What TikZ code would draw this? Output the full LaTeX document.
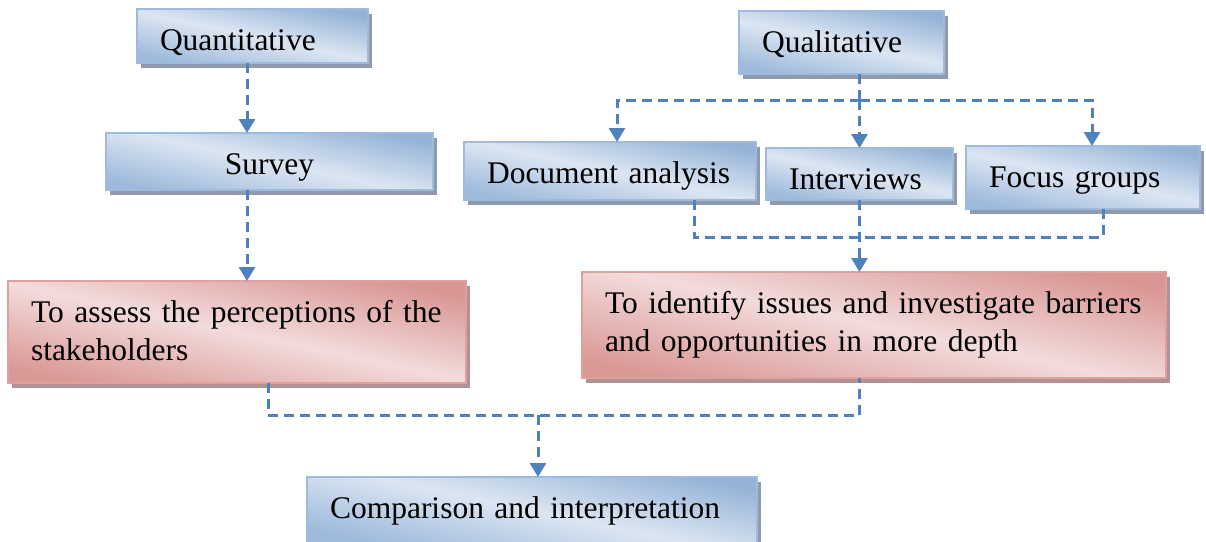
\documentclass[tikz,border=0pt]{standalone}
\usepackage{fontspec}
\setmainfont{Liberation Serif}
\usetikzlibrary{arrows.meta,shadows}

\definecolor{bluedark}{HTML}{95B3D7}
\definecolor{bluedarkb}{HTML}{9DB9DB}
\definecolor{bluelight}{HTML}{DCE6F2}
\definecolor{blueedge}{HTML}{9EBBDF}
\definecolor{blueshadow}{HTML}{8F9BAC}
\definecolor{reddark}{HTML}{D99694}
\definecolor{reddarkb}{HTML}{DA9997}
\definecolor{redlight}{HTML}{F2DCDB}
\definecolor{rededge}{HTML}{DFA09E}
\definecolor{redshadow}{HTML}{B09292}
\definecolor{linkblue}{HTML}{4F81BD}

\tikzset{
  box/.style={rectangle, inner xsep=23pt, inner ysep=0pt, outer sep=0pt,
    line width=1.6pt, align=left, text height=41pt,
    font=\fontsize{31.5}{38.5}\selectfont},
  bluebox/.style={box, draw=blueedge,
    drop shadow={shadow xshift=4pt, shadow yshift=-5pt, fill=blueshadow, opacity=1},
    top color=bluedark, bottom color=bluedarkb, middle color=bluelight,
    shading angle=-12},
  redbox/.style={box, draw=rededge,
    drop shadow={shadow xshift=4pt, shadow yshift=-5pt, fill=redshadow, opacity=1},
    top color=reddark, bottom color=reddarkb, middle color=redlight,
    shading angle=-12},
  link/.style={draw=linkblue, line width=3pt, dash pattern=on 10pt off 6pt},
  conn/.style={link, -{Triangle[width=16pt,length=14pt]}}
}

\begin{document}
\begin{tikzpicture}[x=1pt,y=-1pt]
\useasboundingbox (0,0) rectangle (1206,541);

% method boxes
\node[bluebox, text width=185pt, text depth=13pt] (quant) at (252.5,36) {Quantitative};
\node[bluebox, text width=159pt, text depth=22pt] (qual) at (841.5,42.5) {Qualitative};
\node[bluebox, text width=281pt, text depth=16pt, align=center] (survey) at (269.5,161.5) {Survey};
\node[bluebox, text width=246pt, text depth=17pt] (doc) at (610,171) {\mbox{Document analysis}};
\node[bluebox, text width=141pt, text depth=11pt] (intv) at (859.5,174) {Interviews};
\node[bluebox, text width=188pt, text depth=22pt] (focus) at (1083,177.5) {\mbox{Focus groups}};

% purpose boxes
\node[redbox, text width=412pt, text depth=61pt] (redL) at (237,332)
  {\mbox{To assess the perceptions of the}\\\mbox{stakeholders}};
\node[redbox, text width=538pt, text depth=65pt] (redR) at (874,325)
  {\mbox{To identify issues and investigate barriers}\\\mbox{and opportunities in more depth}};

% final box
\node[bluebox, text width=404pt, text depth=25pt] (comp) at (532,510) {\mbox{Comparison and interpretation}};

% routing points of the dashed connectors
\coordinate (xq) at (247,0);
\coordinate (ql) at (859.5,100);
\coordinate (xdoc) at (617,0);
\coordinate (xfoc) at (1092,0);
\coordinate (j2) at (859.5,237);
\coordinate (xdocb) at (694,0);
\coordinate (xfocb) at (1103,0);
\coordinate (j3) at (538,415);
\coordinate (xrl) at (268,0);

% quantitative branch
\draw[conn] (quant.south -| xq) -- (survey.north -| xq);
\draw[conn] (survey.south -| xq) -- (redL.north -| xq);

% qualitative branch
\draw[link] (qual.south -| ql) -- (ql);
\draw[conn] (ql) -| (doc.north -| xdoc);
\draw[conn] (ql) -- (intv.north);
\draw[conn] (ql) -| (focus.north -| xfoc);
\draw[link] (doc.south -| xdocb) |- (j2) -| (focus.south -| xfocb);
\draw[conn] (intv.south) -- (redR.north -| intv.south);

% merging into the comparison
\draw[link] (redL.south -| xrl) |- (j3) -| (redR.south -| j2);
\draw[conn] (j3) -- (comp.north -| j3);
\end{tikzpicture}
\end{document}
